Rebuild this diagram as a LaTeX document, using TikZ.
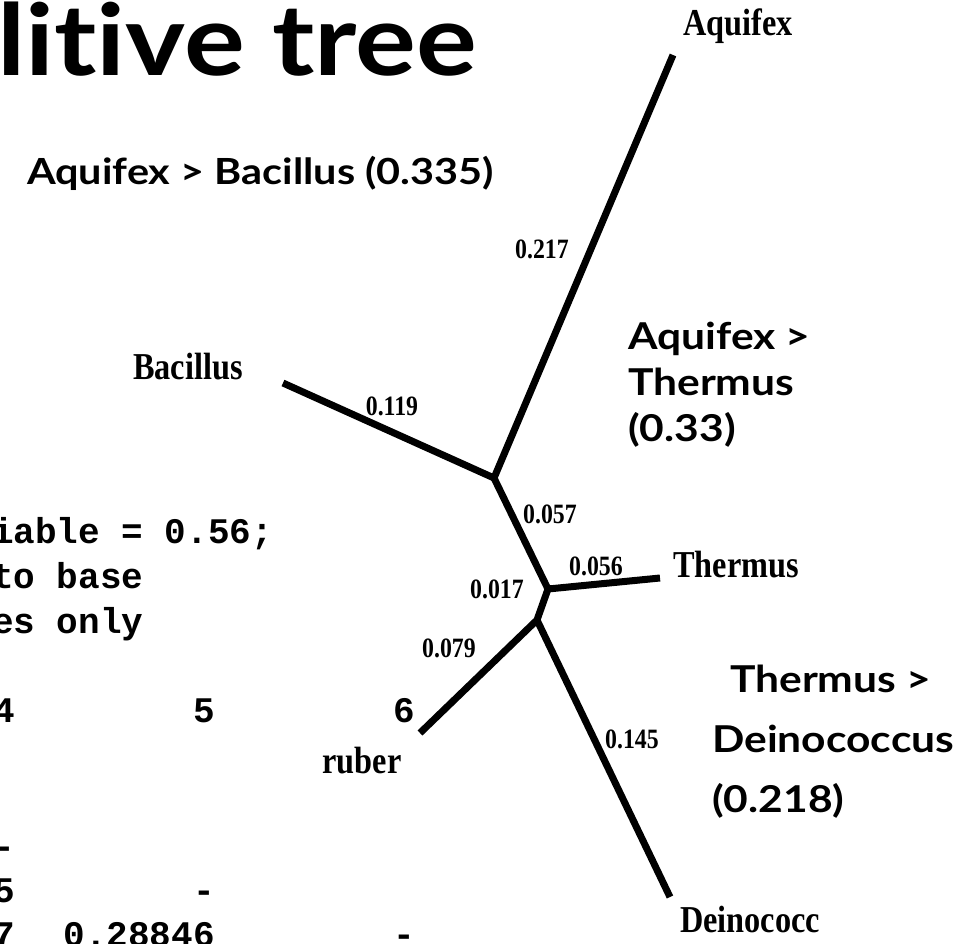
\documentclass[tikz,border=0pt]{standalone}
\usepackage{fontspec}
\newfontfamily\handfont{Lato}[FakeStretch=1.15, Ligatures=NoCommon]
\newfontfamily\treefont{Liberation Serif}[FakeStretch=0.85]
\newfontfamily\codefont{Liberation Mono}
\usetikzlibrary{positioning}

\begin{document}
\begin{tikzpicture}[
		x=1pt, y=-1pt,
		branch/.style={line width=7pt, line cap=butt, line join=miter},
		leaf_label/.style={inner sep=0pt, font=\treefont\bfseries\fontsize{38}{38}\selectfont},
		branch_len/.style={inner sep=0pt, anchor=base, font=\treefont\bfseries\fontsize{28}{28}\selectfont},
		note_text/.style={inner sep=0pt, align=left, font=\handfont\bfseries\fontsize{37}{46}\selectfont},
		code_text/.style={inner sep=0pt, font=\codefont\bfseries\fontsize{36}{36}\selectfont}
		]
		\useasboundingbox (0,0) rectangle (972,943);
		\clip (0,0) rectangle (972,943);
		
		% --- TITLE AND NOTES ---
		\node[inner sep=0pt, anchor=base west, font=\handfont\bfseries\fontsize{99}{99}\selectfont] (title) at (-3,75) {litive tree};
		\node[note_text, anchor=base east, font=\handfont\bfseries\fontsize{36}{36}\selectfont] (note_ab) at (494,184) {Aquifex > Bacillus (0.335)};
		\node[note_text, anchor=north west] (note_at) at (628,322) {Aquifex >\\Thermus\\(0.33)};
		\node[note_text, anchor=north west, font=\handfont\bfseries\fontsize{37}{60}\selectfont] (note_td) at (712,665) {\hspace*{18pt}Thermus >\\Deinococcus\\(0.218)};
		
		% --- DISTANCE TEXT (left) ---
		\node[code_text, anchor=base west] (gam) at (-8,543) {iable = 0.56;};
		\node[code_text, anchor=base west] (tob) at (-8,588) {to base};
		\node[code_text, anchor=base west] (onl) at (-8,633) {es only};
		
		% header and lower triangle of the distance table
		\node[code_text, anchor=base east] (h4) at (15,722) {4};
		\node[code_text, anchor=base east] (h5) at (215,722) {5};
		\node[code_text, anchor=base east] (h6) at (415,722) {6};
		\node[code_text, anchor=base east] (d44) at (15,858) {-};
		\node[code_text, anchor=base east] (d54) at (15,902) {5};
		\node[code_text, anchor=base east] (d55) at (215,902) {-};
		\node[code_text, anchor=base east] (d64) at (15,946) {7};
		\node[code_text, anchor=base east] (d65) at (215,946) {0.28846};
		\node[code_text, anchor=base east] (d66) at (415,946) {-};
		
		% --- TREE ---
		\coordinate (n1) at (494,478);
		\coordinate (n2) at (548,589);
		\coordinate (n3) at (537,620);
		\coordinate (aq) at (673,55);
		\coordinate (ba) at (283,383);
		\coordinate (th) at (660,578);
		\coordinate (ru) at (420,733);
		\coordinate (de) at (670,897);
		
		\draw[branch] (ba) -- (n1) -- (aq);
		\draw[branch] (n1) -- (n2) -- (th);
		\draw[branch] (n2) -- (n3) -- (ru);
		\draw[branch] (n3) -- (de);
		
		% leaf names
		\node[leaf_label, anchor=base] (l_aq) at (738,35) {Aquifex};
		\node[leaf_label, anchor=base] (l_ba) at (188,379) {Bacillus};
		\node[leaf_label, anchor=base west] (l_th) at (673,577) {Thermus};
		\node[leaf_label, anchor=base] (l_ru) at (362,773) {ruber};
		\node[leaf_label, anchor=base west] (l_de) at (680,932) {Deinococc};
		
		% branch lengths
		\node[branch_len] (b_aq) at (542,258) {0.217};
		\node[branch_len] (b_ba) at (392,415) {0.119};
		\node[branch_len] (b_12) at (550,523) {0.057};
		\node[branch_len] (b_th) at (596,575) {0.056};
		\node[branch_len] (b_23) at (497,598) {0.017};
		\node[branch_len] (b_ru) at (449,657) {0.079};
		\node[branch_len] (b_de) at (632,748) {0.145};
		
	\end{tikzpicture}
\end{document}
